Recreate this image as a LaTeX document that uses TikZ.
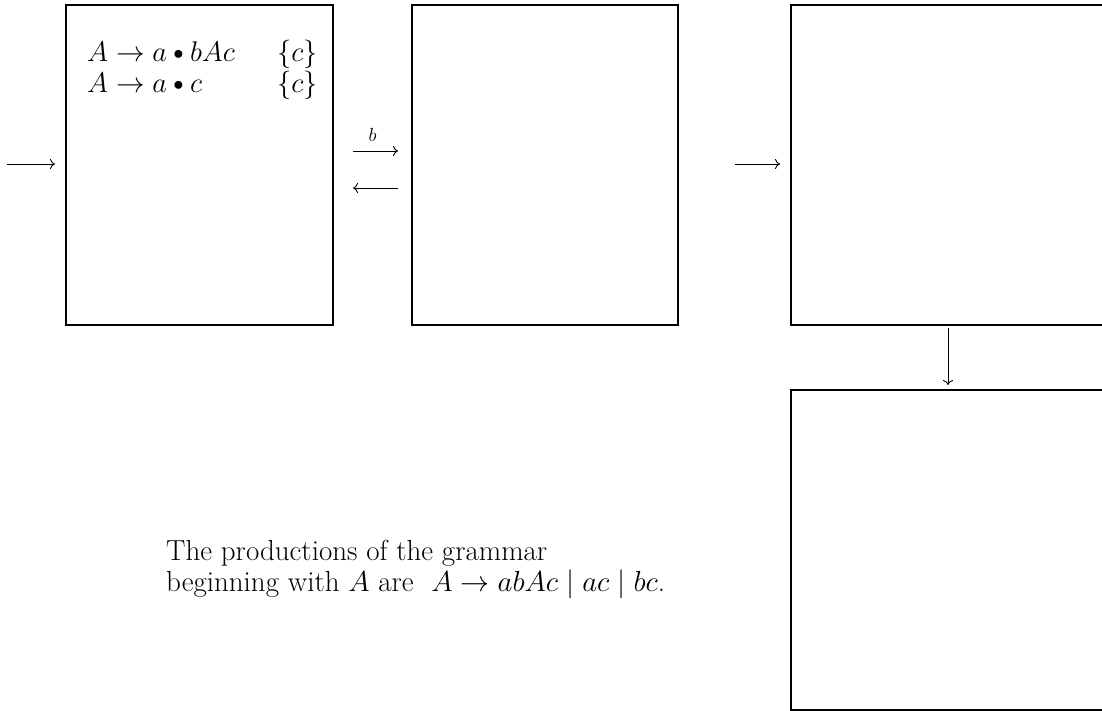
\documentclass[tikz,border=0pt]{standalone}
\usepackage{fix-cm}
\usepackage{graphicx}
\usetikzlibrary{arrows.meta}
\newcommand{\itemdot}{\mathbin{\vcenter{\hbox{\scalebox{0.72}{$\bullet$}}}}}
\begin{document}
\begin{tikzpicture}[x=1pt,y=-1pt,
  box/.style={draw, line width=1.3pt, minimum width=#1, minimum height=320pt, inner sep=0pt, outer sep=0pt},
  arr/.style={line width=0.9pt, -{To[length=5pt,width=10pt]}},
  item/.style={anchor=base west, inner sep=0pt, font=\fontsize{28.5}{30}\selectfont},
  body/.style={anchor=base west, inner sep=0pt, font=\fontsize{29}{31}\selectfont},
  lbl/.style={inner sep=0pt, font=\fontsize{19}{20}\selectfont}
]
\useasboundingbox (0,0) rectangle (1102,711);
\clip (0,0) rectangle (1102,711);
\fill[white] (0,0) rectangle (1102,711);

\node[box=267pt] (b1) at (199.5,165) {};
\node[box=266pt] (b2) at (545,165) {};
\node[box=314pt] (b3) at (948,165) {};
\node[box=314pt] (b4) at (948,550) {};

\node[item] (r1) at (87,62) {$A \rightarrow a \itemdot bAc$};
\node[item] (s1) at (277,62) {$\{c\}$};
\node[item] (r2) at (87,93) {$A \rightarrow a \itemdot c$};
\node[item] (s2) at (277,93) {$\{c\}$};

\coordinate (start) at (7,164);
\draw[arr, shorten >=11pt] (start) -- (b1.west |- start);
\draw[arr, shorten <=20pt, shorten >=14pt] ([yshift=14pt]b1.east) -- node[lbl, above=9pt] (lb) {$b$} ([yshift=14pt]b2.west);
\draw[arr, shorten <=14pt, shorten >=20pt] ([yshift=-23pt]b2.west) -- ([yshift=-23pt]b1.east);
\draw[arr, shorten <=57pt, shorten >=11pt] ([yshift=1pt]b2.east) -- ([yshift=1pt]b3.west);
\draw[arr, shorten <=3pt, shorten >=5pt] (b3.south) -- (b4.north);

\node[body] (t1) at (166,560) {The productions of the grammar};
\node[body] (t2) at (166,591) {beginning with $A$ are\ \ $A \rightarrow abAc \mid ac \mid bc$.};
\end{tikzpicture}
\end{document}
